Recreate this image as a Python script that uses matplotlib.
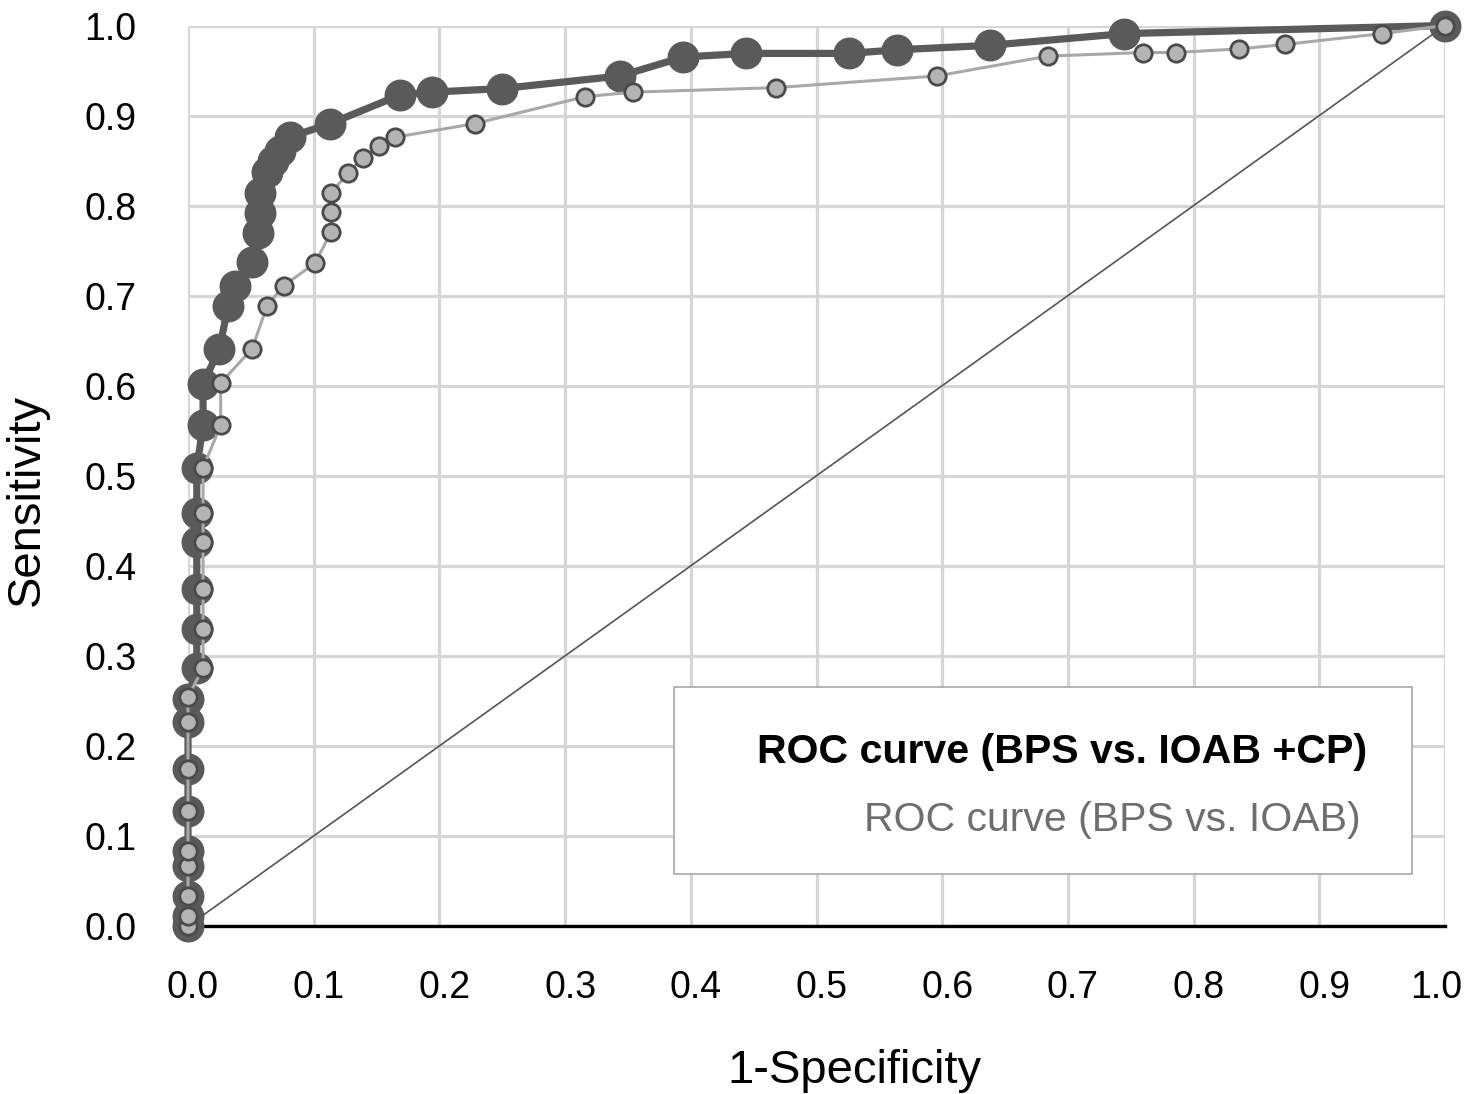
import matplotlib
matplotlib.use("Agg")
import matplotlib.pyplot as plt
from matplotlib.patches import Rectangle
from matplotlib.transforms import ScaledTranslation

plt.rcParams['font.family'] = ['Liberation Sans', 'DejaVu Sans']

# ROC curve (BPS vs. IOAB +CP)
cp_fpr = [0, 0, 0, 0, 0, 0, 0, 0, 0,
          0.007, 0.007, 0.007, 0.007, 0.007, 0.007,
          0.012, 0.012,
          0.025, 0.032, 0.037, 0.051, 0.056, 0.057, 0.057, 0.063, 0.068, 0.073,
          0.081, 0.113, 0.169, 0.194, 0.250, 0.344, 0.394, 0.444, 0.526, 0.564,
          0.638, 0.745, 1.0]
cp_tpr = [0, 0.011, 0.033, 0.067, 0.083, 0.128, 0.174, 0.226, 0.252,
          0.287, 0.330, 0.374, 0.426, 0.459, 0.509,
          0.556, 0.602,
          0.641, 0.689, 0.711, 0.737, 0.770, 0.792, 0.814, 0.837, 0.850, 0.861,
          0.876, 0.891, 0.923, 0.926, 0.930, 0.944, 0.965, 0.969, 0.969, 0.973,
          0.978, 0.991, 1.0]

# ROC curve (BPS vs. IOAB)
io_fpr = [0, 0, 0, 0, 0, 0, 0, 0, 0,
          0.012, 0.012, 0.012, 0.012, 0.012, 0.012,
          0.026, 0.026,
          0.051, 0.063, 0.076, 0.101, 0.114, 0.114, 0.114, 0.127, 0.139, 0.152,
          0.165, 0.228, 0.316, 0.354, 0.468, 0.596, 0.684, 0.760, 0.786, 0.836,
          0.873, 0.950, 1.0]
io_tpr = [0, 0.011, 0.033, 0.067, 0.083, 0.128, 0.174, 0.226, 0.254,
          0.287, 0.330, 0.374, 0.426, 0.459, 0.509,
          0.556, 0.603,
          0.641, 0.689, 0.711, 0.736, 0.771, 0.793, 0.814, 0.836, 0.853, 0.866,
          0.876, 0.891, 0.921, 0.926, 0.931, 0.944, 0.966, 0.970, 0.970, 0.974,
          0.979, 0.991, 1.0]

ref_line = [0, 1]
ticks = [0.0, 0.1, 0.2, 0.3, 0.4, 0.5, 0.6, 0.7, 0.8, 0.9, 1.0]
tick_labels = [f"{t:.1f}" for t in ticks]
legend_labels = ["ROC curve (BPS vs. IOAB +CP)", "ROC curve (BPS vs. IOAB)"]

W, H = 1468, 1094
fig = plt.figure(figsize=(W / 100, H / 100), dpi=100)
ax = fig.add_axes([188 / W, 1 - 926 / H, (1445 - 188) / W, (926 - 25.5) / H])

ax.set_xlim(0, 1)
ax.set_ylim(0, 1)
ax.set_xticks(ticks)
ax.set_yticks(ticks)
ax.set_xticklabels(tick_labels)
ax.set_yticklabels(tick_labels)
ax.tick_params(length=0, labelsize=27, colors='black')
ax.tick_params(axis='y', pad=37)
ax.tick_params(axis='x', pad=32)
ax.grid(True, color='#d6d6d6', linewidth=2.3)
ax.set_axisbelow(True)
for s in ['left', 'right', 'top']:
    ax.spines[s].set_visible(False)
ax.spines['bottom'].set_color('black')
ax.spines['bottom'].set_linewidth(2.4)
ax.spines['bottom'].set_zorder(2.5)

# nudge x tick labels as in the reference (last one kept inside the figure)
xlabels = ax.get_xticklabels()
for i, lab in enumerate(xlabels):
    dx = 5 if i < len(xlabels) - 1 else -9
    lab.set_transform(lab.get_transform() +
                      ScaledTranslation(dx / 100, 0, fig.dpi_scale_trans))

ax.plot(cp_fpr, cp_tpr, color='#5a5a5a', linewidth=5.2, marker='o',
        markersize=22, markerfacecolor='#5a5a5a', markeredgecolor='#5a5a5a',
        clip_on=False, zorder=3)
ax.plot(ref_line, ref_line, color='#555555', linewidth=1.2, zorder=3.5,
        clip_on=False)
ax.plot(io_fpr, io_tpr, color='#a8a8a8', linewidth=2.2, marker='o',
        markersize=12.5, markerfacecolor='#b4b4b4', markeredgecolor='#4a4a4a',
        markeredgewidth=2.0, clip_on=False, zorder=4)

# legend box (text only, no handles)
bx0, bx1, by0, by1 = 674, 1412, 687, 874
fig.patches.append(Rectangle((bx0 / W, 1 - by1 / H), (bx1 - bx0) / W,
                             (by1 - by0) / H, transform=fig.transFigure,
                             facecolor='white', edgecolor='#a8a8a8',
                             linewidth=1.2, zorder=5))
fig.text(1367 / W, 1 - 752 / H, legend_labels[0], ha='right', va='center',
         fontsize=29.6, fontweight='bold', color='black', zorder=6)
fig.text(1361 / W, 1 - 820 / H, legend_labels[1], ha='right', va='center',
         fontsize=29.5, color='#6e6e6e', zorder=6)

fig.text(854 / W, 1 - 1083 / H, "1-Specificity", ha='center', va='baseline',
         fontsize=34)
fig.text(27 / W, 1 - 500 / H, "Sensitivity", ha='center', va='center',
         rotation=90, fontsize=34)

fig.savefig("out.png", dpi=100, facecolor='white')
